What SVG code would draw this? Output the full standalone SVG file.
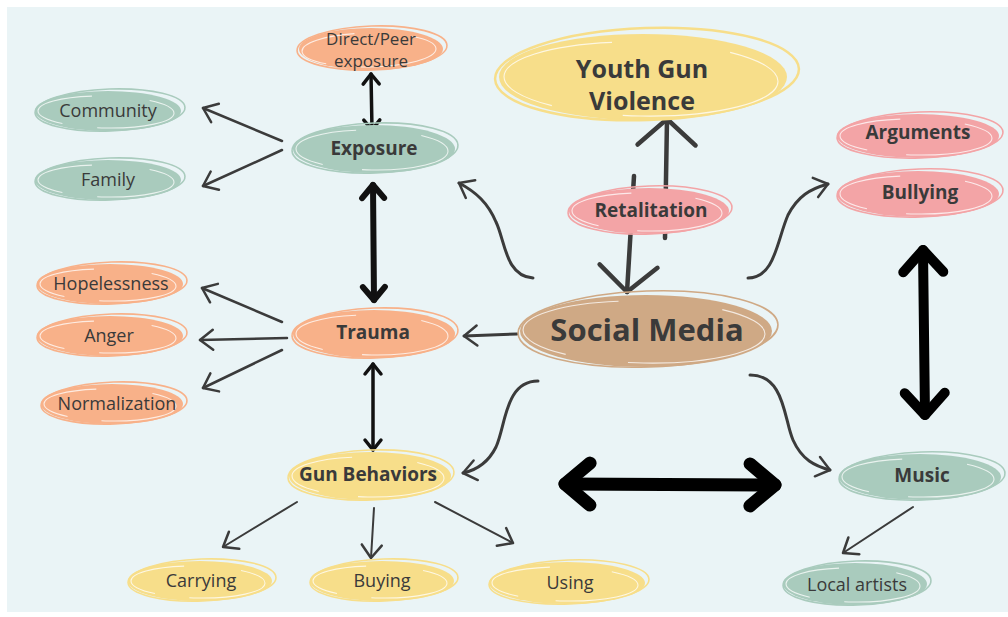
<svg xmlns="http://www.w3.org/2000/svg" width="1008" height="617" viewBox="0 0 1008 617">
<style>
.t{font-family:"Open Sans","Liberation Sans",sans-serif;fill:#3a3a3a;text-anchor:middle;dominant-baseline:central}
.r{font-size:18px}
.b{font-weight:bold;font-size:19px}
.green{fill:#a9cbbd}.greenO{fill:none;stroke:#a9cbbd;stroke-width:1.6}
.orange{fill:#f8b189}.orangeO{fill:none;stroke:#f8b189;stroke-width:1.6}
.pink{fill:#f3a4a6}.pinkO{fill:none;stroke:#f3a4a6;stroke-width:1.6}
.yellow{fill:#f7de8a}.yellowO{fill:none;stroke:#f7de8a;stroke-width:1.6}
.brown{fill:#cfa985}.brownO{fill:none;stroke:#cfa985;stroke-width:1.6}
.w{fill:none;stroke:#ffffff;stroke-width:1.1;opacity:0.75;stroke-dasharray:38 12 30 20;stroke-dashoffset:10}
.thin{fill:none;stroke:#3b3b3b;stroke-width:2.5;stroke-linecap:round}
.mid{fill:none;stroke:#111;stroke-width:3.5;stroke-linecap:round}
.thick{fill:none;stroke:#111;stroke-width:6;stroke-linecap:round}
</style>
<defs>
<marker id="a" markerUnits="userSpaceOnUse" viewBox="0 0 24 24" markerWidth="24" markerHeight="24" refX="20" refY="12" orient="auto" overflow="visible">
<path d="M7,2 L20,12 L7,22" fill="none" stroke="#3b3b3b" stroke-width="2.5" stroke-linecap="round" stroke-linejoin="round"/>
</marker>
<marker id="m" markerUnits="userSpaceOnUse" viewBox="0 0 24 24" markerWidth="24" markerHeight="24" refX="20" refY="12" orient="auto-start-reverse" overflow="visible">
<path d="M10,4 L20,12 L10,20" fill="none" stroke="#111" stroke-width="3.5" stroke-linecap="round" stroke-linejoin="round"/>
</marker>
<marker id="k" markerUnits="userSpaceOnUse" viewBox="0 0 30 30" markerWidth="30" markerHeight="30" refX="25" refY="15" orient="auto-start-reverse" overflow="visible">
<path d="M12,4 L25,15 L12,26" fill="none" stroke="#111" stroke-width="6" stroke-linecap="round" stroke-linejoin="round"/>
</marker>
<marker id="K" markerUnits="userSpaceOnUse" viewBox="0 0 50 50" markerWidth="50" markerHeight="50" refX="42" refY="25" orient="auto-start-reverse" overflow="visible">
<path d="M20,5 L42,25 L20,45" fill="none" stroke="#000" stroke-width="10" stroke-linecap="round" stroke-linejoin="round"/>
</marker>
<marker id="H" markerUnits="userSpaceOnUse" viewBox="0 0 60 60" markerWidth="60" markerHeight="60" refX="50" refY="30" orient="auto-start-reverse" overflow="visible">
<path d="M25,9 L50,30 L25,51" fill="none" stroke="#000" stroke-width="13" stroke-linecap="round" stroke-linejoin="round"/>
</marker>
<marker id="w" markerUnits="userSpaceOnUse" viewBox="0 0 60 60" markerWidth="60" markerHeight="60" refX="50" refY="30" orient="auto" overflow="visible">
<path d="M24,1 L50,30 L24,59" fill="none" stroke="#3b3b3b" stroke-width="4.5" stroke-linecap="round" stroke-linejoin="round"/>
</marker>
</defs>
<rect x="0" y="0" width="1008" height="617" fill="#ffffff"/>
<rect x="7" y="7" width="1001" height="605" fill="#eaf4f6"/>

<g id="connectors">
<path class="mid" d="M371,74 L372,130" marker-start="url(#m)" marker-end="url(#m)"/>
<path class="thin" d="M282,141 L203,108" marker-end="url(#a)"/>
<path class="thin" d="M282,150 L203,186" marker-end="url(#a)"/>
<path class="thick" d="M373,185 L374,300" marker-start="url(#k)" marker-end="url(#k)"/>
<path class="thin" d="M282,322 L202,288" marker-end="url(#a)"/>
<path class="thin" d="M287,338 L200,340" marker-end="url(#a)"/>
<path class="thin" d="M282,350 L203,388" marker-end="url(#a)"/>
<path class="mid" d="M373,364 L373,450" marker-start="url(#m)" marker-end="url(#m)"/>
<path class="thin" style="stroke-width:3" d="M517,334 L464,336" marker-end="url(#a)"/>
<path class="thin" style="stroke-width:2" d="M297,502 L223,547" marker-end="url(#a)"/>
<path class="thin" style="stroke-width:2" d="M374,508 L371,558" marker-end="url(#a)"/>
<path class="thin" style="stroke-width:2" d="M435,502 L513,543" marker-end="url(#a)"/>
<path class="thin" style="stroke-width:3" d="M533,278 C505,276 505,240 496,222 C488,203 476,192 459,183" marker-end="url(#a)"/>
<path class="thin" style="stroke-width:3" d="M748,278 C775,278 777,240 788,215 C798,196 810,189 828,184" marker-end="url(#a)"/>
<path class="thin" style="stroke-width:3" d="M538,381 C505,381 506,425 496,447 C488,463 477,470 463,473" marker-end="url(#a)"/>
<path class="thin" style="stroke-width:3" d="M750,375 C785,375 784,420 793,440 C802,460 815,466 830,470" marker-end="url(#a)"/>
<path class="thin" style="stroke-width:4.5" d="M665,238 L667,119" marker-end="url(#w)"/>
<path class="thin" style="stroke-width:4.5" d="M634,176 L627,292" marker-end="url(#w)"/>
<path d="M923,250 L925,415" fill="none" stroke="#000" stroke-width="10" stroke-linecap="round" marker-start="url(#K)" marker-end="url(#K)"/>
<path d="M565,484 L775,485" fill="none" stroke="#000" stroke-width="13" stroke-linecap="round" marker-start="url(#H)" marker-end="url(#H)"/>
<path class="thin" style="stroke-width:2" d="M913,507 L843,553" marker-end="url(#a)"/>
</g>

<g id="direct-peer">
<ellipse class="orange" cx="371" cy="49" rx="72" ry="21"/>
<ellipse class="orangeO" cx="372" cy="48" rx="75" ry="22" transform="rotate(-2 372 48)"/>
<ellipse class="w" pathLength="100" cx="369" cy="50" rx="67" ry="17" transform="rotate(-1 369 50)"/>
<text class="t" x="371" y="38" style="font-size:17px">Direct/Peer</text>
<text class="t" x="371" y="60" style="font-size:17px">exposure</text>
</g>
<g id="community">
<ellipse class="green" cx="108" cy="111" rx="73" ry="20"/>
<ellipse class="greenO" cx="110" cy="110" rx="75" ry="21" transform="rotate(-2 110 110)"/>
<ellipse class="w" pathLength="100" cx="106" cy="112" rx="68" ry="16" transform="rotate(1 106 112)"/>
<text class="t r" x="108" y="110">Community</text>
</g>
<g id="family">
<ellipse class="green" cx="108" cy="180" rx="73" ry="20"/>
<ellipse class="greenO" cx="110" cy="179" rx="75" ry="21" transform="rotate(-2 110 179)"/>
<ellipse class="w" pathLength="100" cx="106" cy="181" rx="68" ry="16" transform="rotate(1 106 181)"/>
<text class="t r" x="108" y="179">Family</text>
</g>
<g id="exposure">
<ellipse class="green" cx="374" cy="149" rx="81" ry="24"/>
<ellipse class="greenO" cx="375" cy="148" rx="83" ry="25" transform="rotate(-2 375 148)"/>
<ellipse class="w" pathLength="100" cx="372" cy="150" rx="76" ry="20" transform="rotate(1 372 150)"/>
<text class="t b" x="374" y="148">Exposure</text>
</g>
<g id="hopelessness">
<ellipse class="orange" cx="110" cy="284" rx="73" ry="20"/>
<ellipse class="orangeO" cx="112" cy="283" rx="75" ry="21" transform="rotate(-2 112 283)"/>
<ellipse class="w" pathLength="100" cx="108" cy="285" rx="68" ry="16" transform="rotate(1 108 285)"/>
<text class="t r" x="111" y="283">Hopelessness</text>
</g>
<g id="anger">
<ellipse class="orange" cx="110" cy="336" rx="73" ry="20"/>
<ellipse class="orangeO" cx="112" cy="335" rx="75" ry="21" transform="rotate(-2 112 335)"/>
<ellipse class="w" pathLength="100" cx="108" cy="337" rx="68" ry="16" transform="rotate(1 108 337)"/>
<text class="t r" x="109" y="335">Anger</text>
</g>
<g id="normalization">
<ellipse class="orange" cx="112" cy="404" rx="71" ry="20"/>
<ellipse class="orangeO" cx="114" cy="403" rx="73" ry="21" transform="rotate(-2 114 403)"/>
<ellipse class="w" pathLength="100" cx="110" cy="405" rx="66" ry="16" transform="rotate(1 110 405)"/>
<text class="t r" x="117" y="403">Normalization</text>
</g>
<g id="trauma">
<ellipse class="orange" cx="374" cy="334" rx="81" ry="24"/>
<ellipse class="orangeO" cx="375" cy="333" rx="83" ry="25" transform="rotate(-2 375 333)"/>
<ellipse class="w" pathLength="100" cx="372" cy="335" rx="76" ry="20" transform="rotate(1 372 335)"/>
<text class="t b" x="373" y="332">Trauma</text>
</g>
<g id="gun-behaviors">
<ellipse class="yellow" cx="370" cy="476" rx="81" ry="24"/>
<ellipse class="yellowO" cx="371" cy="475" rx="83" ry="25" transform="rotate(-2 371 475)"/>
<ellipse class="w" pathLength="100" cx="368" cy="477" rx="76" ry="20" transform="rotate(1 368 477)"/>
<text class="t b" x="368" y="474">Gun Behaviors</text>
</g>
<g id="carrying">
<ellipse class="yellow" cx="200" cy="581" rx="72" ry="20"/>
<ellipse class="yellowO" cx="202" cy="580" rx="74" ry="21" transform="rotate(-2 202 580)"/>
<ellipse class="w" pathLength="100" cx="198" cy="582" rx="67" ry="16" transform="rotate(1 198 582)"/>
<text class="t r" x="201" y="580">Carrying</text>
</g>
<g id="buying">
<ellipse class="yellow" cx="382" cy="581" rx="72" ry="20"/>
<ellipse class="yellowO" cx="384" cy="580" rx="74" ry="21" transform="rotate(-2 384 580)"/>
<ellipse class="w" pathLength="100" cx="380" cy="582" rx="67" ry="16" transform="rotate(1 380 582)"/>
<text class="t r" x="382" y="580">Buying</text>
</g>
<g id="using">
<ellipse class="yellow" cx="567" cy="583" rx="78" ry="21"/>
<ellipse class="yellowO" cx="569" cy="582" rx="80" ry="22" transform="rotate(-2 569 582)"/>
<ellipse class="w" pathLength="100" cx="565" cy="584" rx="73" ry="17" transform="rotate(1 565 584)"/>
<text class="t r" x="570" y="582">Using</text>
</g>
<g id="youth-gun-violence">
<ellipse class="yellow" cx="643" cy="77" rx="144" ry="43"/>
<ellipse class="yellowO" cx="647" cy="74" rx="152" ry="46" transform="rotate(-2 647 74)" style="stroke-width:2.5"/>
<ellipse class="w" pathLength="100" cx="641" cy="79" rx="137" ry="37" transform="rotate(1 641 79)"/>
<text class="t b" x="642" y="68" style="font-size:25px">Youth Gun</text>
<text class="t b" x="642" y="100" style="font-size:25px">Violence</text>
</g>
<g id="retalitation">
<ellipse class="pink" cx="649" cy="211" rx="80" ry="23"/>
<ellipse class="pinkO" cx="650" cy="210" rx="82" ry="24" transform="rotate(-2 650 210)"/>
<ellipse class="w" pathLength="100" cx="647" cy="212" rx="75" ry="19" transform="rotate(1 647 212)"/>
<text class="t b" x="651" y="210">Retalitation</text>
</g>
<g id="arguments">
<ellipse class="pink" cx="918" cy="136" rx="81" ry="22"/>
<ellipse class="pinkO" cx="920" cy="135" rx="83" ry="23" transform="rotate(-2 920 135)"/>
<ellipse class="w" pathLength="100" cx="916" cy="137" rx="76" ry="18" transform="rotate(1 916 137)"/>
<text class="t b" x="918" y="132">Arguments</text>
</g>
<g id="bullying">
<ellipse class="pink" cx="918" cy="194" rx="81" ry="23"/>
<ellipse class="pinkO" cx="920" cy="193" rx="83" ry="24" transform="rotate(-2 920 193)"/>
<ellipse class="w" pathLength="100" cx="916" cy="195" rx="76" ry="19" transform="rotate(1 916 195)"/>
<text class="t b" x="920" y="192">Bullying</text>
</g>
<g id="social-media">
<ellipse class="brown" cx="646" cy="331" rx="126" ry="36"/>
<ellipse class="brownO" cx="648" cy="329" rx="130" ry="38" transform="rotate(-2 648 329)"/>
<ellipse class="w" pathLength="100" cx="644" cy="332" rx="121" ry="31" transform="rotate(1 644 332)"/>
<text class="t b" x="647" y="329" style="font-size:31px">Social Media</text>
</g>
<g id="music">
<ellipse class="green" cx="920" cy="477" rx="81" ry="23"/>
<ellipse class="greenO" cx="922" cy="476" rx="83" ry="24" transform="rotate(-2 922 476)"/>
<ellipse class="w" pathLength="100" cx="918" cy="478" rx="76" ry="19" transform="rotate(1 918 478)"/>
<text class="t b" x="922" y="475">Music</text>
</g>
<g id="local-artists">
<ellipse class="green" cx="855" cy="584" rx="72" ry="21"/>
<ellipse class="greenO" cx="857" cy="583" rx="74" ry="22" transform="rotate(-2 857 583)"/>
<ellipse class="w" pathLength="100" cx="853" cy="585" rx="67" ry="17" transform="rotate(1 853 585)"/>
<text class="t r" x="857" y="584">Local artists</text>
</g>
</svg>
